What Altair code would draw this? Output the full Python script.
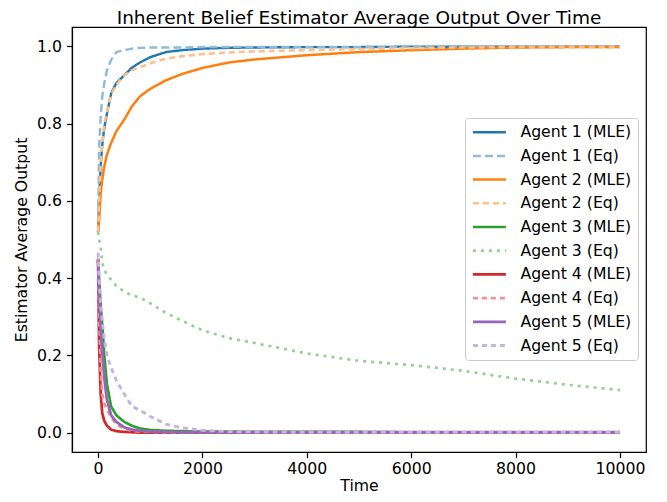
import altair as alt
import pandas as pd

time = [0, 20, 50, 80, 120, 170, 250, 350, 500, 650, 800, 1000, 1300, 1600,
        2000, 2500, 3000, 4000, 5000, 6000, 7000, 8000, 9000, 10000]

agent1_mle = [0.52, 0.61, 0.69, 0.745, 0.79, 0.826, 0.878, 0.905, 0.925, 0.945, 0.958, 0.972,
              0.985, 0.99, 0.994, 0.996, 0.997, 0.998, 0.998, 0.999, 0.999, 0.999, 0.999, 0.999]
agent1_eq = [0.52, 0.74, 0.82, 0.87, 0.905, 0.938, 0.965, 0.985, 0.99, 0.994, 0.996, 0.997,
             0.997, 0.997, 0.998, 0.998, 0.998, 0.998, 0.998, 0.998, 0.998, 0.998, 0.998, 0.998]
agent2_mle = [0.52, 0.55, 0.62, 0.655, 0.69, 0.72, 0.75, 0.78, 0.81, 0.845, 0.87, 0.89,
              0.912, 0.928, 0.944, 0.958, 0.966, 0.977, 0.985, 0.99, 0.994, 0.997, 0.998, 0.998]
agent2_eq = [0.52, 0.6, 0.7, 0.75, 0.8, 0.83, 0.875, 0.9, 0.925, 0.938, 0.946, 0.956,
             0.968, 0.974, 0.98, 0.984, 0.987, 0.99, 0.993, 0.995, 0.997, 0.998, 0.998, 0.998]
agent3_mle = [0.45, 0.4, 0.33, 0.28, 0.2, 0.125, 0.068, 0.045, 0.028, 0.018, 0.011, 0.007,
              0.005, 0.004, 0.003, 0.003, 0.002, 0.002, 0.002, 0.001, 0.001, 0.001, 0.001, 0.001]
agent3_eq = [0.52, 0.5, 0.48, 0.44, 0.42, 0.41, 0.395, 0.38, 0.365, 0.355, 0.35, 0.335,
             0.31, 0.29, 0.265, 0.245, 0.232, 0.205, 0.186, 0.175, 0.16, 0.14, 0.124, 0.11]
agent4_mle = [0.45, 0.22, 0.1, 0.05, 0.03, 0.018, 0.008, 0.004, 0.002, 0.001, 0.0, 0.0,
              0.0, 0.0, 0.0, 0.0, 0.0, 0.0, 0.0, 0.0, 0.0, 0.0, 0.0, 0.0]
agent4_eq = [0.45, 0.3, 0.16, 0.1, 0.075, 0.06, 0.04, 0.022, 0.01, 0.005, 0.003, 0.002,
             0.001, 0.001, 0.001, 0.001, 0.001, 0.001, 0.001, 0.001, 0.001, 0.001, 0.001, 0.001]
agent5_mle = [0.445, 0.36, 0.27, 0.21, 0.14, 0.085, 0.045, 0.028, 0.014, 0.008, 0.005, 0.003,
              0.002, 0.001, 0.001, 0.001, 0.001, 0.001, 0.001, 0.001, 0.001, 0.001, 0.001, 0.001]
agent5_eq = [0.466, 0.4, 0.33, 0.29, 0.24, 0.2, 0.168, 0.135, 0.1, 0.068, 0.058, 0.042,
             0.022, 0.013, 0.006, 0.003, 0.002, 0.001, 0.001, 0.001, 0.001, 0.001, 0.001, 0.001]

series_names = ["Agent 1 (MLE)", "Agent 1 (Eq)", "Agent 2 (MLE)", "Agent 2 (Eq)",
                "Agent 3 (MLE)", "Agent 3 (Eq)", "Agent 4 (MLE)", "Agent 4 (Eq)",
                "Agent 5 (MLE)", "Agent 5 (Eq)"]
series_values = [agent1_mle, agent1_eq, agent2_mle, agent2_eq, agent3_mle, agent3_eq,
                 agent4_mle, agent4_eq, agent5_mle, agent5_eq]

# MLE: tab10 colours; Eq: the same colours at half opacity over white
colors = ["#1f77b4", "#8fbbd9", "#ff7f0e", "#ffbf86", "#2ca02c", "#95cf95",
          "#d62728", "#ea9393", "#9467bd", "#c9b3de"]
dashes = [[1, 0], [8, 4], [1, 0], [6, 4], [1, 0], [3, 5], [1, 0], [5, 4], [1, 0], [5, 4]]
widths = [2.4, 2.9, 2.4, 2.9, 2.4, 2.9, 2.4, 2.9, 2.4, 2.9]

rows = []
for i, (name, vals) in enumerate(zip(series_names, series_values)):
    for t, v in zip(time, vals):
        rows.append({"Time": t, "Value": v, "Series": name, "idx": i})
df = pd.DataFrame(rows)

FONT = "DejaVu Sans"
LEG = dict(title=None, orient="none", legendX=393, legendY=91)

chart = alt.Chart(df).mark_line(strokeCap="butt", strokeJoin="round").encode(
    x=alt.X("Time:Q", title="Time",
            scale=alt.Scale(domain=[-500, 10500], nice=False, zero=False),
            axis=alt.Axis(values=[0, 2000, 4000, 6000, 8000, 10000], format="d",
                          labelPadding=4, titlePadding=2)),
    y=alt.Y("Value:Q", title="Estimator Average Output",
            scale=alt.Scale(domain=[-0.05, 1.05], nice=False, zero=False),
            axis=alt.Axis(values=[0.0, 0.2, 0.4, 0.6, 0.8, 1.0], format=".1f",
                          labelPadding=5, titlePadding=7)),
    color=alt.Color("Series:N", scale=alt.Scale(domain=series_names, range=colors),
                    legend=alt.Legend(**LEG)),
    strokeDash=alt.StrokeDash("Series:N", scale=alt.Scale(domain=series_names, range=dashes),
                              legend=alt.Legend(**LEG)),
    strokeWidth=alt.StrokeWidth("Series:N", scale=alt.Scale(domain=series_names, range=widths),
                                legend=alt.Legend(**LEG)),
    order=alt.Order("Time:Q"),
    detail="idx:O",
).properties(
    width=574, height=425,
    title=alt.Title("Inherent Belief Estimator Average Output Over Time",
                    font=FONT, fontSize=18.5, fontWeight="normal", color="black", offset=0),
    padding={"left": 64, "top": 19, "right": 13, "bottom": 42},
    autosize=alt.AutoSizeParams(type="none"),
).configure_axis(
    labelFont=FONT, labelFontSize=15.7, labelColor="black",
    titleFont=FONT, titleFontSize=15.7, titleColor="black", titleFontWeight="normal",
    tickColor="black", domainColor="black", tickSize=5.6, tickWidth=1.2, domainWidth=1.2,
    grid=False,
).configure_legend(
    symbolType="stroke", symbolSize=1089, clipHeight=15.6,
    labelFont=FONT, labelFontSize=15.7, labelColor="black",
    rowPadding=6.7, padding=6.4, labelOffset=13,
    strokeColor="#cccccc", fillColor="white", cornerRadius=3,
).configure_view(stroke="black", strokeWidth=1.2)

chart.save("out.html", embed_options={"renderer": "svg", "actions": False})
